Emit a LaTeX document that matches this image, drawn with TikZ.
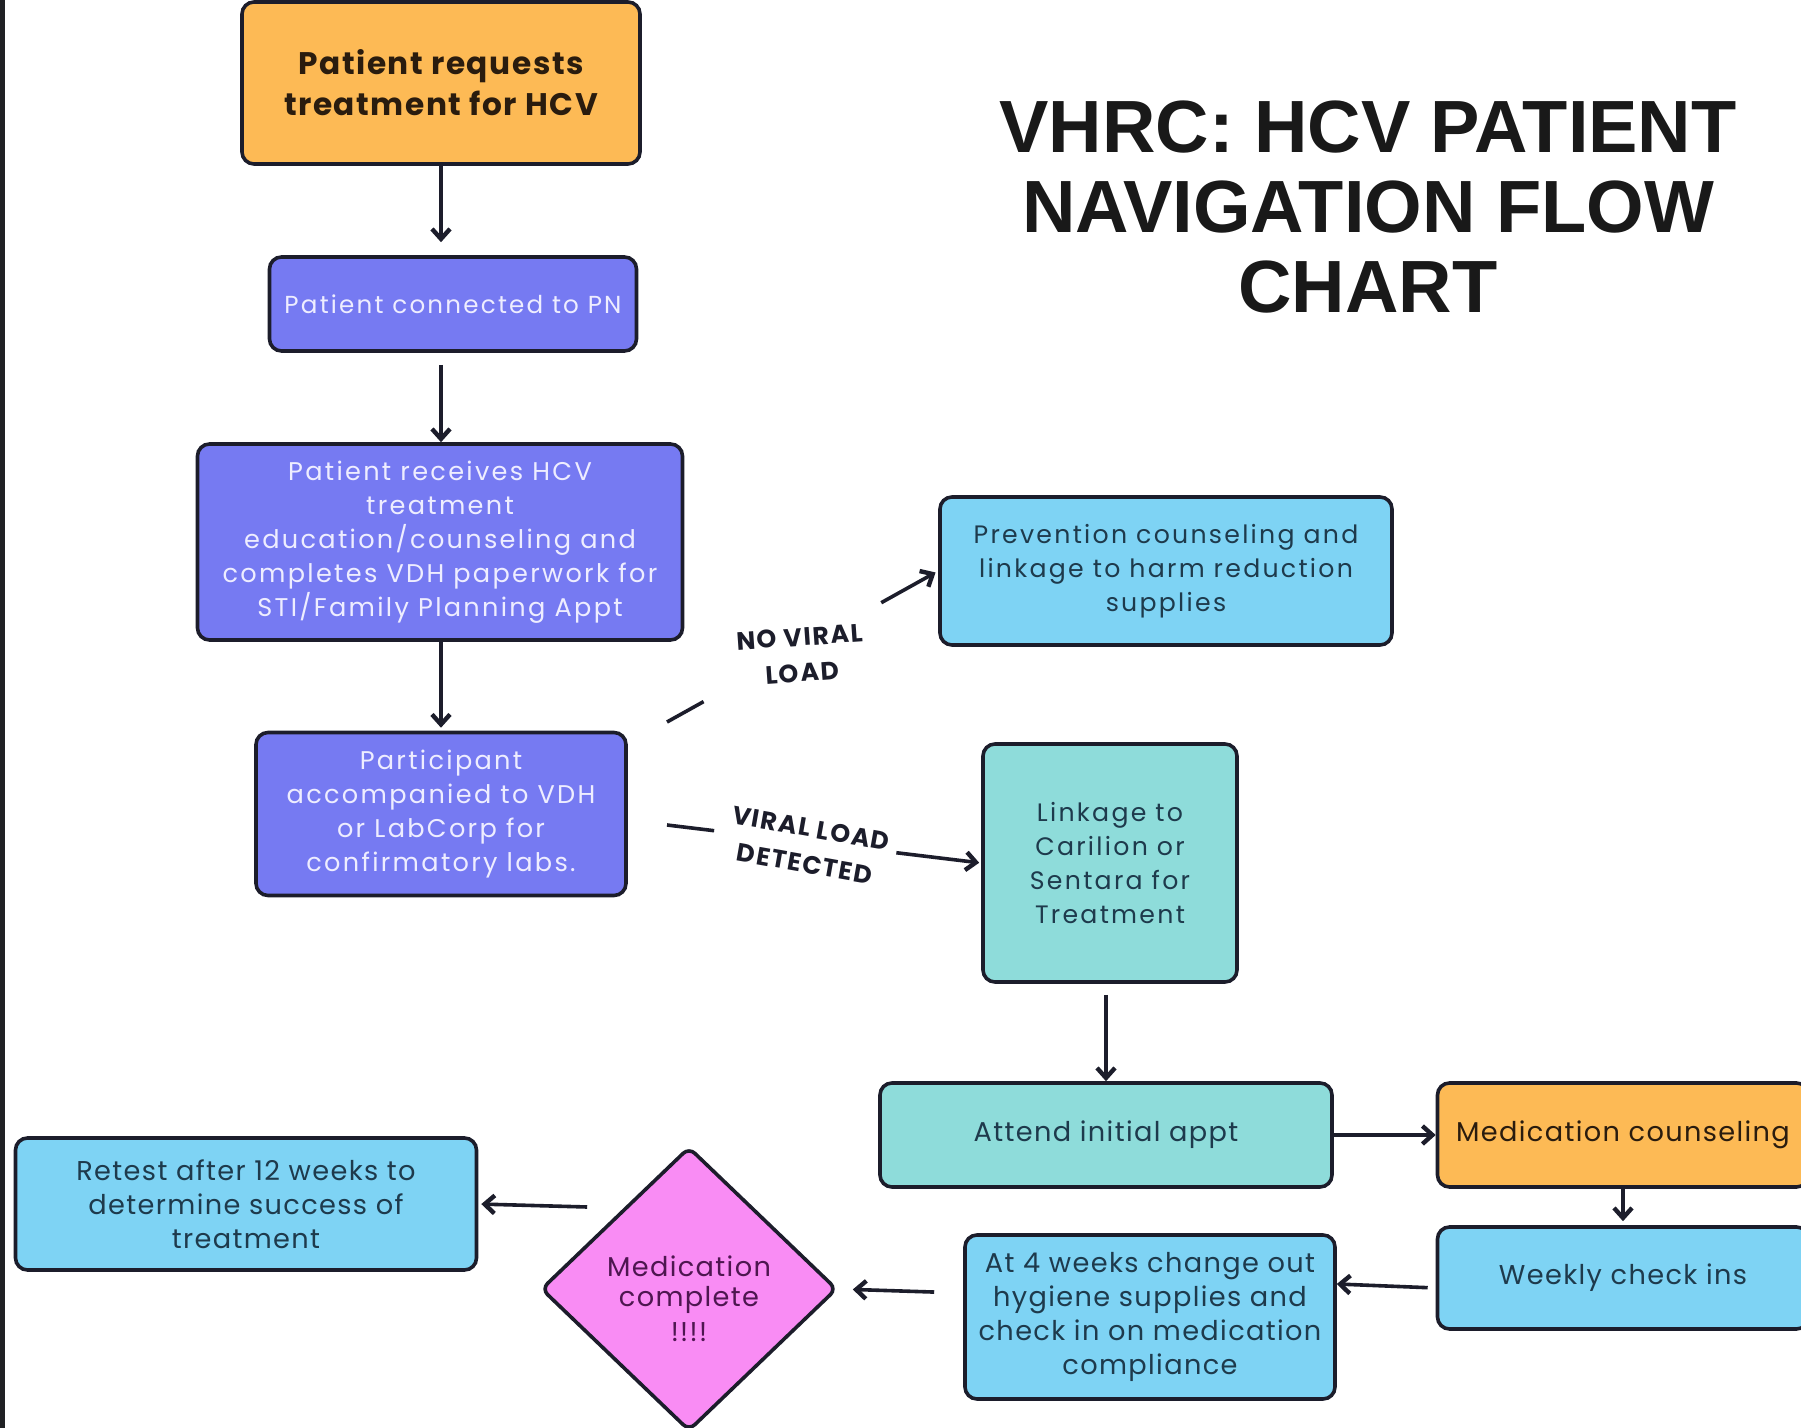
\documentclass[tikz,border=0pt]{standalone}
\usepackage{fontspec}
\usepackage{xcolor}
\setmainfont{Poppins}
\newfontfamily\titlefont{Liberation Sans}
\newfontfamily\trackfont[LetterSpace=9]{Poppins}
\newfontfamily\softtrack[LetterSpace=5]{Poppins}
\newfontfamily\boldtrack[LetterSpace=5]{Poppins}
\newfontfamily\capsfont[LetterSpace=6]{Poppins}
\usetikzlibrary{positioning,calc,shapes.geometric,arrows.meta}

\definecolor{flowOrange}{HTML}{FDBA55}
\definecolor{flowPurple}{HTML}{767AF2}
\definecolor{flowSky}{HTML}{7ED3F4}
\definecolor{flowTeal}{HTML}{8EDCDA}
\definecolor{flowPink}{HTML}{F98CF4}
\definecolor{flowEdge}{HTML}{1C1D2B}
\definecolor{inkDark}{HTML}{2A1C0E}
\definecolor{inkSlate}{HTML}{1E3A4C}
\definecolor{inkLilac}{HTML}{EEEDFF}
\definecolor{inkPlum}{HTML}{4E1650}
\definecolor{stripe}{HTML}{202124}

\begin{document}
\begin{tikzpicture}[x=0.5pt,y=-0.5pt,
	box/.style={draw=flowEdge, line width=1.8pt, rounded corners=6pt, align=center, inner sep=2pt,
		font=\softtrack\fontsize{13.6}{17}\selectfont, text=inkSlate},
	orangebox/.style={box, fill=flowOrange, text=inkDark},
	purplebox/.style={box, fill=flowPurple, text=inkLilac, font=\trackfont\fontsize{12.8}{17}\selectfont},
	skybox/.style={box, fill=flowSky},
	tealbox/.style={box, fill=flowTeal},
	arr/.style={-{Straight Barb[length=5pt,width=9pt,line width=2.2pt]}, line width=1.8pt, flowEdge},
	seg/.style={line width=1.8pt, flowEdge},
	branch/.style={font=\capsfont\bfseries\fontsize{12.6}{18}\selectfont, align=center, text=flowEdge}]
	
	\useasboundingbox (0,0) rectangle (1801,1428);
	\fill[white] (0,0) rectangle (1801,1428);
	\fill[stripe] (0,0) rectangle (5,1428);
	
	% title
	\node[font=\titlefont\bfseries\fontsize{37}{40}\selectfont, align=center, text=black!90] (title)
		at (1368,207) {VHRC: HCV PATIENT\\NAVIGATION FLOW\\CHART};
	
	% left column
	\node[orangebox, minimum width=199pt, minimum height=81pt, font=\boldtrack\bfseries\fontsize{15.6}{20.5}\selectfont] (request)
		at (441,83) {Patient requests\\treatment for HCV};
	\node[purplebox, minimum width=183.5pt, minimum height=47pt, font=\trackfont\fontsize{12.3}{17}\selectfont] (connect)
		at (453,304) {Patient connected to PN};
	\node[purplebox, minimum width=242.5pt, minimum height=98pt] (educate) at (440,542)
		{Patient receives HCV\\treatment\\education/counseling and\\completes VDH paperwork for\\STI/Family Planning Appt};
	\node[purplebox, minimum width=185pt, minimum height=81.5pt] (labs) at (441,814)
		{Participant\\accompanied to VDH\\or LabCorp for\\confirmatory labs.};
	
	% branches
	\node[skybox, minimum width=226pt, minimum height=74pt, font=\trackfont\fontsize{12.6}{17}\selectfont] (prevent) at (1166,571)
		{Prevention counseling and\\linkage to harm reduction\\supplies};
	\node[tealbox, minimum width=127pt, minimum height=119pt, font=\trackfont\fontsize{12.6}{17}\selectfont] (linkage) at (1110,863)
		{Linkage to\\Carilion or\\Sentara for\\Treatment};
	
	% treatment loop
	\node[tealbox, minimum width=226pt, minimum height=52pt] (attend) at (1106,1135) {Attend initial appt};
	\node[orangebox, minimum width=185.5pt, minimum height=52pt] (medcounsel)
		at (1623,1135) {Medication counseling};
	\node[skybox, minimum width=185.5pt, minimum height=51pt] (weekly) at (1623,1278) {Weekly check ins};
	\node[skybox, minimum width=185pt, minimum height=82pt] (hygiene) at (1150,1317)
		{At 4 weeks change out\\hygiene supplies and\\check in on medication\\compliance};
	\node[diamond, draw=flowEdge, line width=1.8pt, fill=flowPink, rounded corners=4pt, inner sep=0pt,
		minimum width=148pt, minimum height=142pt] (complete) at (689,1289) {};
	\node[align=center, text=inkPlum, font=\softtrack\fontsize{13.6}{15}\selectfont] (completeText)
		at ($(complete.center)+(0,10)$) {Medication\\complete\\[2.5pt]!!!!};
	\node[skybox, minimum width=230.5pt, minimum height=66pt] (retest) at (246,1204)
		{Retest after 12 weeks to\\determine success of\\treatment};
	
	% vertical arrows
	\draw[arr, shorten >=6.5pt] (request.south) -- (request.south |- connect.north);
	\draw[arr, shorten <=6pt] (request.south |- connect.south) -- (request.south |- educate.north);
	\draw[arr, shorten >=1.5pt] (request.south |- educate.south) -- (request.south |- labs.north);
	\draw[arr, shorten <=5.5pt] (attend.north |- linkage.south) -- (attend.north);
	\draw[arr] (attend.east) -- (medcounsel.west);
	\draw[arr, shorten >=2pt] (medcounsel.south) -- (weekly.north);
	\draw[arr, shorten <=4pt] ([yshift=-5pt]weekly.west) -- ([yshift=16.5pt]hygiene.east);
	\draw[arr, shorten <=14.5pt, shorten >=7pt] ([yshift=12pt]hygiene.west) -- (complete.east);
	\draw[arr, shorten >=1.5pt] ([shift={(24pt,41pt)}]complete.west) -- (retest.east);
	
	% no viral load
	\coordinate (nvStart) at (667,722);
	\draw[seg] (nvStart) -- ($(nvStart)!0.135!(prevent.west)$);
	\draw[arr, shorten >=1.5pt] ($(nvStart)!0.79!(prevent.west)$) -- (prevent.west);
	\node[branch, rotate=4] (nvLabel) at (801,655) {NO VIRAL\\LOAD};
	
	% viral load detected
	\coordinate (vlStart) at (667,825);
	\draw[seg] (vlStart) -- ($(vlStart)!0.15!(linkage.west)$);
	\draw[arr, shorten >=1pt] ($(vlStart)!0.73!(linkage.west)$) -- (linkage.west);
	\node[branch, rotate=-10] (vlLabel) at (808,846) {VIRAL LOAD\\DETECTED};
\end{tikzpicture}
\end{document}
